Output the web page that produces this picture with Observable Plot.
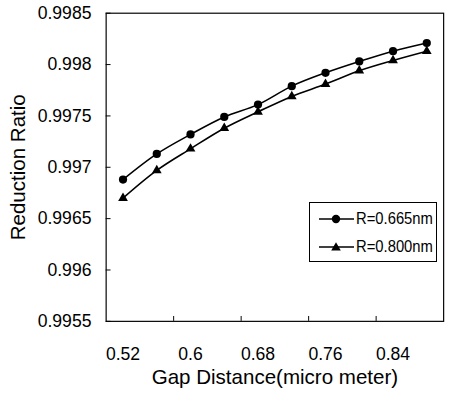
<!DOCTYPE html>
<html>
<head>
<meta charset="utf-8">
<script src="https://cdn.jsdelivr.net/npm/d3@7"></script>
<script src="https://cdn.jsdelivr.net/npm/@observablehq/plot@0.6"></script>
<style>
  html, body { margin: 0; padding: 0; background: #fff; overflow: hidden; }
  #wrap { position: relative; width: 450px; height: 398px; overflow: hidden; font-family: "Liberation Sans", Arial, sans-serif; }
  #legend { position: absolute; left: 309px; top: 202px; width: 126px; height: 58px; border: 1px solid #000; background: #fff; }
  .entry { position: absolute; left: 0; width: 126px; height: 20px; }
  .entry svg { position: absolute; left: 8px; top: 0; }
  .entry span { position: absolute; left: 46px; top: 0; font-size: 17px; line-height: 20px; color: #000; transform: scaleX(0.87); transform-origin: left center; white-space: nowrap; }
</style>
</head>
<body>
<div id="wrap"><div id="chart"></div>
  <div id="legend"></div>
</div>
<script>
// Data
const gap = [0.52, 0.56, 0.60, 0.64, 0.68, 0.72, 0.76, 0.80, 0.84, 0.88];
const r665 = [0.99688, 0.99713, 0.99732, 0.99749, 0.99761, 0.99779, 0.99792, 0.99803, 0.99813, 0.99821];
const r800 = [0.99670, 0.99697, 0.99718, 0.99738, 0.99754, 0.99769, 0.99781, 0.99794, 0.99804, 0.99813];
const seriesNames = ["R=0.665nm", "R=0.800nm"];
const yTicks = [0.9955, 0.996, 0.9965, 0.997, 0.9975, 0.998, 0.9985];
const xLabelTicks = [0.52, 0.6, 0.68, 0.76, 0.84];
const xMarkTicks = [0.58, 0.66, 0.74, 0.82];
const xTitle = "Gap Distance(micro meter)";
const yTitle = "Reduction Ratio";

const rows = [];
gap.forEach((g, i) => {
  rows.push({x: g, y: r665[i], s: seriesNames[0]});
  rows.push({x: g, y: r800[i], s: seriesNames[1]});
});
const s665 = rows.filter(d => d.s === seriesNames[0]);
const s800 = rows.filter(d => d.s === seriesNames[1]);

const font = "Liberation Sans, Arial, sans-serif";

const chart = Plot.plot({
  width: 460,
  height: 398,
  marginLeft: 108,
  marginRight: 7,
  marginTop: 13,
  marginBottom: 70,
  style: {fontFamily: font, background: "#fff", color: "#000"},
  x: {domain: [0.50, 0.90]},
  y: {domain: [0.9955, 0.9985]},
  marks: [
    Plot.frame({stroke: "#000", strokeWidth: 1.2}),
    Plot.axisY({ticks: yTicks, tickSize: -5, tickPadding: 20, fontSize: 18, label: null, tickFormat: d => String(d)}),
    Plot.axisX({ticks: xMarkTicks, tickSize: -5, tickFormat: () => "", label: null}),
    Plot.axisX({ticks: xLabelTicks, tickSize: 0, tickPadding: 27, fontSize: 18, label: null, tickFormat: d => String(d)}),
    Plot.text([xTitle], {frameAnchor: "bottom", lineAnchor: "middle", textAnchor: "middle", dy: 57, fontSize: 21, text: d => d}),
    Plot.text([yTitle], {frameAnchor: "left", lineAnchor: "middle", textAnchor: "middle", rotate: -90, dx: -90, fontSize: 21, text: d => d}),
    Plot.line(s665, {x: "x", y: "y", stroke: "#000", strokeWidth: 1.6, curve: "catmull-rom"}),
    Plot.line(s800, {x: "x", y: "y", stroke: "#000", strokeWidth: 1.6, curve: "catmull-rom"}),
    Plot.dot(s665, {x: "x", y: "y", r: 4.2, fill: "#000", stroke: null, symbol: "circle"}),
    Plot.dot(s800, {x: "x", y: "y", r: 3.7, fill: "#000", stroke: null, symbol: "triangle"})
  ]
});
document.getElementById("chart").appendChild(chart);

// Legend
const legend = document.getElementById("legend");
const shapes = [
  '<circle cx="18" cy="10" r="4.2" fill="#000"/>',
  '<path d="M18,5.2 L22.8,13.6 L13.2,13.6 Z" fill="#000"/>'
];
seriesNames.forEach((name, i) => {
  const e = document.createElement("div");
  e.className = "entry";
  e.style.top = (i === 0 ? 6 : 34) + "px";
  e.innerHTML = `<svg width="38" height="20"><line x1="1" y1="10" x2="36" y2="10" stroke="#000" stroke-width="1.4"/>${shapes[i]}</svg><span>${name}</span>`;
  legend.appendChild(e);
});
</script>
</body>
</html>
